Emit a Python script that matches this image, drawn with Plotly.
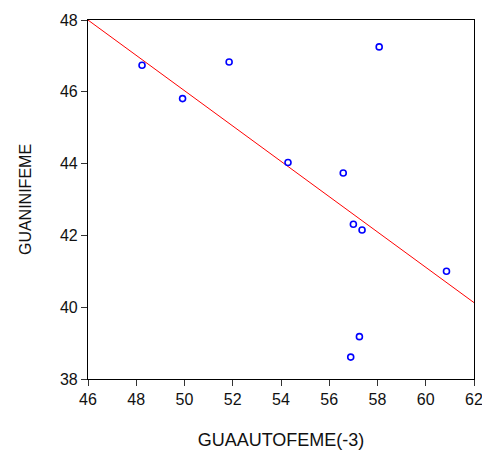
import numpy as np
import plotly.graph_objects as go

# Data
guaautofeme_lag3 = [48.24, 49.92, 51.85, 54.29, 56.58, 58.07, 57.00, 57.36, 60.86, 57.25, 56.89]
guaninifeme = [46.74, 45.81, 46.83, 44.03, 43.74, 47.25, 42.31, 42.15, 41.00, 39.18, 38.61]
x_ticks = [46, 48, 50, 52, 54, 56, 58, 60, 62]
y_ticks = [38, 40, 42, 44, 46, 48]

x = np.array(guaautofeme_lag3)
y = np.array(guaninifeme)
slope, intercept = np.polyfit(x, y, 1)
x_line = np.array([x_ticks[0], x_ticks[-1]])
y_line = intercept + slope * x_line

fig = go.Figure()
fig.add_trace(go.Scatter(
    x=x_line, y=y_line, mode="lines",
    line=dict(color="#ff0000", width=1), hoverinfo="skip", showlegend=False))
fig.add_trace(go.Scatter(
    x=x, y=y, mode="markers",
    marker=dict(symbol="circle-open", size=6, color="#0000ff", line=dict(width=1.6, color="#0000ff")),
    showlegend=False))

family = "Liberation Sans, Arial, sans-serif"
tick_font = dict(family=family, size=16, color="#111111")
axis_common = dict(
    showgrid=False, zeroline=False, showline=True, linecolor="#000000", linewidth=1.2,
    mirror=True, ticks="outside", ticklen=6, tickcolor="#333333", tickwidth=1,
    tickfont=tick_font, ticklabeloverflow="allow", automargin=False,
)
fig.update_xaxes(range=[46, 62], tickvals=x_ticks,
                 title=dict(text="GUAAUTOFEME(-3)", font=dict(family=family, size=18, color="#111111"), standoff=32),
                 **axis_common)
fig.update_yaxes(range=[38, 48], tickvals=y_ticks,
                 title=dict(text="GUANINIFEME", font=dict(family=family, size=16, color="#111111"), standoff=24),
                 **axis_common)
fig.update_layout(
    width=482, height=450,
    margin=dict(l=88, r=8, t=20, b=71, autoexpand=False),
    plot_bgcolor="white", paper_bgcolor="white",
    font=tick_font,
)
fig.write_html("out.html", config={"displayModeBar": False},
               post_script="document.body.style.margin='0';")
